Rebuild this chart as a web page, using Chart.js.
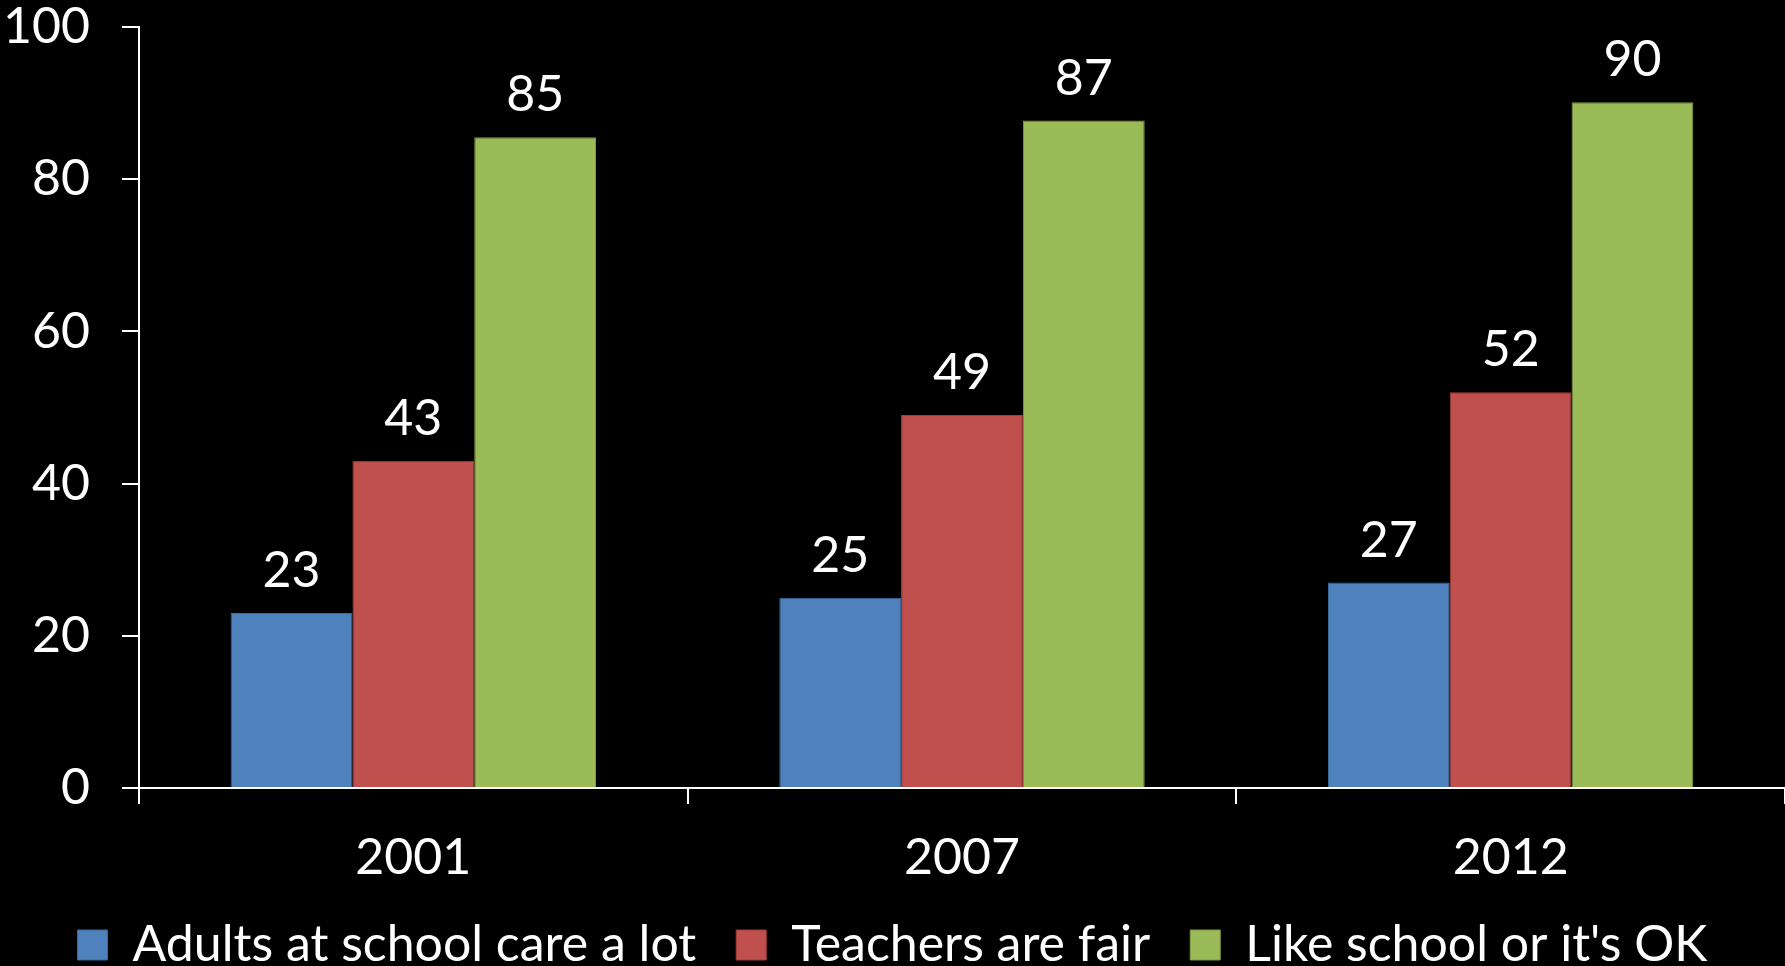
<!DOCTYPE html>
<html>
<head>
<meta charset="utf-8">
<script src="https://cdn.jsdelivr.net/npm/chart.js"></script>
<style>
  html, body { margin: 0; padding: 0; background: #000; overflow: hidden; }
  #wrap { width: 1785px; height: 980px; position: relative; }
</style>
</head>
<body>
<div id="wrap"><canvas id="chart1"></canvas></div>
<script>
// data
var years = ['2001', '2007', '2012']
var seriesNames = ['Adults at school care a lot', 'Teachers are fair', "Like school or it's OK"]
var adultsCare = [23, 25, 27]
var teachersFair = [43, 49, 52]
var likeSchool = [85.5, 87.7, 90.1]
var yTicks = [0, 20, 40, 60, 80, 100]

var FONT = 'Lato, "Open Sans", sans-serif'
var FS = 50

// value labels above bars (whole numbers, as in the source)
var barValues = {
  id: 'barValues',
  afterDatasetsDraw: function(chart) {
    var ctx = chart.ctx
    ctx.save()
    ctx.fillStyle = '#fff'
    ctx.font = FS + 'px ' + FONT
    ctx.textAlign = 'center'
    ctx.textBaseline = 'middle'
    chart.data.datasets.forEach(function(ds, i) {
      chart.getDatasetMeta(i).data.forEach(function(bar, j) {
        ctx.fillText(Math.floor(ds.data[j]), bar.x, bar.y - 42)
      })
    })
    ctx.restore()
  }
}

var chartData = {
  labels: years,
  datasets: [
    {
      label: seriesNames[0],
      backgroundColor: '#4F81BD',
      borderColor: '#3C6A9E',
      borderWidth: 1,
      data: adultsCare
    },
    {
      label: seriesNames[1],
      backgroundColor: '#C0504D',
      borderColor: '#A23E3B',
      borderWidth: 1,
      data: teachersFair
    },
    {
      label: seriesNames[2],
      backgroundColor: '#9BBB59',
      borderColor: '#7F9C45',
      borderWidth: 1,
      data: likeSchool
    }
  ]
}

var chartOptions = {
  responsive: true,
  maintainAspectRatio: false,
  animation: false,
  categoryPercentage: 0.666,
  barPercentage: 1,
  layout: { padding: { top: 27, left: 0, right: 0, bottom: 0 } },
  plugins: {
    tooltip: { enabled: false },
    legend: {
      position: 'bottom',
      labels: {
        color: '#fff',
        font: { family: FONT, size: FS },
        boxWidth: 30,
        boxHeight: 30,
        padding: 40
      }
    }
  },
  scales: {
    x: {
      grid: { display: true, drawOnChartArea: false, color: '#fff', lineWidth: 2, tickLength: 16, offset: true },
      border: { display: true, color: '#fff', width: 2 },
      ticks: { color: '#fff', font: { family: FONT, size: FS }, padding: 24 },
      afterFit: function(scale) { scale.height = 92 }
    },
    y: {
      min: 0,
      max: 100,
      afterBuildTicks: function(scale) {
        scale.ticks = yTicks.map(function(v) { return { value: v } })
      },
      grid: { display: true, drawOnChartArea: false, color: '#fff', lineWidth: 2, tickLength: 17 },
      border: { display: true, color: '#fff', width: 2 },
      ticks: { color: '#fff', font: { family: FONT, size: FS }, padding: 32 },
      afterFit: function(scale) {
        scale.width = 139
        scale.paddingTop = 0
        scale.paddingBottom = 0
      }
    }
  }
}

new Chart(document.getElementById('chart1').getContext('2d'), {
  type: 'bar',
  data: chartData,
  options: chartOptions,
  plugins: [barValues]
})
</script>
</body>
</html>
